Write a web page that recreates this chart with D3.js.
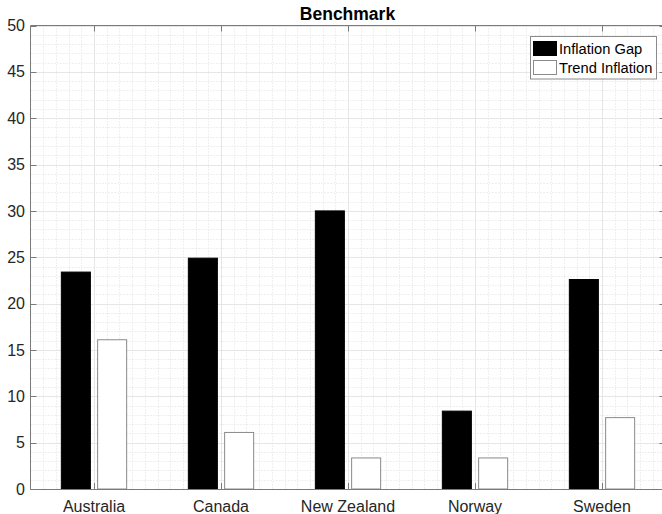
<!DOCTYPE html>
<html>
<head>
<meta charset="utf-8">
<script src="https://cdn.jsdelivr.net/npm/d3@7"></script>
<style>
  html, body { margin: 0; padding: 0; background: #fff; }
  svg { display: block; }
  text { font-family: "Liberation Sans", Arial, sans-serif; fill: #262626; }
</style>
</head>
<body>
<svg id="chart" width="662" height="514"></svg>
<script>
// ---- data ----
const categories = ["Australia", "Canada", "New Zealand", "Norway", "Sweden"];
const seriesNames = ["Inflation Gap", "Trend Inflation"];
const inflationGap = [23.4, 24.9, 30.0, 8.4, 22.6];
const trendInflation = [16.1, 6.1, 3.35, 3.35, 7.7];
const yTicks = [0, 5, 10, 15, 20, 25, 30, 35, 40, 45, 50];
const titleText = "Benchmark";

// ---- layout ----
const plotL = 30.5, plotR = 665.5, plotT = 25.5, plotB = 489;
const svg = d3.select("#chart");

const x = d3.scaleBand().domain(categories).range([plotL, plotR]).padding(0);
const xLin = d3.scaleLinear().domain([0.5, 5.5]).range([plotL, plotR]);
const step = x.bandwidth();
const groupW = step * 0.5714;
const x1 = d3.scaleBand().domain(seriesNames)
  .range([-groupW / 2, groupW / 2]).paddingInner(0.2).paddingOuter(0.1);
const y = d3.scaleLinear().domain([0, 50]).range([plotB, plotT]);

const fills = ["#000000", "#ffffff"];
const strokes = ["#000000", "#8a8a8a"];

// ---- grid ----
const grid = svg.append("g");
// minor y (every 1)
d3.range(0, 51, 1).filter(v => v % 5 !== 0).forEach(v => {
  grid.append("line").attr("x1", plotL).attr("x2", plotR)
    .attr("y1", Math.round(y(v)) + 0.5).attr("y2", Math.round(y(v)) + 0.5)
    .attr("stroke", "#dedede").attr("stroke-width", 1).attr("stroke-dasharray", "1,2");
});
// minor x (every 0.1)
d3.range(6, 55, 1).filter(k => k % 10 !== 0).forEach(k => {
  const xx = Math.round(xLin(k / 10)) + 0.5;
  grid.append("line").attr("x1", xx).attr("x2", xx).attr("y1", plotT).attr("y2", plotB)
    .attr("stroke", "#dedede").attr("stroke-width", 1).attr("stroke-dasharray", "1,2");
});
// major y
yTicks.forEach(v => {
  grid.append("line").attr("x1", plotL).attr("x2", plotR)
    .attr("y1", Math.round(y(v)) + 0.5).attr("y2", Math.round(y(v)) + 0.5)
    .attr("stroke", "#e6e6e6").attr("stroke-width", 1);
});
// major x
categories.forEach(c => {
  const xx = Math.round(x(c) + step / 2) + 0.5;
  grid.append("line").attr("x1", xx).attr("x2", xx).attr("y1", plotT).attr("y2", plotB)
    .attr("stroke", "#e6e6e6").attr("stroke-width", 1);
});

// ---- bars ----
const seriesData = [inflationGap, trendInflation];
seriesNames.forEach((s, si) => {
  svg.append("g").selectAll("rect")
    .data(categories.map((c, i) => ({ c, v: seriesData[si][i] })))
    .join("rect")
    .attr("x", d => x(d.c) + step / 2 + x1(s))
    .attr("width", x1.bandwidth())
    .attr("y", d => y(d.v))
    .attr("height", d => y(0) - y(d.v))
    .attr("fill", fills[si])
    .attr("stroke", strokes[si])
    .attr("stroke-width", 1);
});

// ---- axes ----
const axisColor = "#7a7a7a";
const ax = svg.append("g");
ax.append("line").attr("x1", plotL).attr("x2", plotL).attr("y1", plotT).attr("y2", plotB + 0.5)
  .attr("stroke", axisColor);
ax.append("line").attr("x1", plotL).attr("x2", plotR).attr("y1", plotB + 0.5).attr("y2", plotB + 0.5)
  .attr("stroke", axisColor);
ax.append("line").attr("x1", plotL).attr("x2", plotR).attr("y1", plotT).attr("y2", plotT)
  .attr("stroke", axisColor);
ax.append("line").attr("x1", plotR).attr("x2", plotR).attr("y1", plotT).attr("y2", plotB)
  .attr("stroke", axisColor);

// y ticks and labels
yTicks.forEach(v => {
  const yy = Math.round(y(v)) + 0.5;
  ax.append("line").attr("x1", plotL).attr("x2", plotL + 6).attr("y1", yy).attr("y2", yy).attr("stroke", axisColor);
  ax.append("line").attr("x1", plotR - 6).attr("x2", plotR).attr("y1", yy).attr("y2", yy).attr("stroke", axisColor);
  ax.append("text").attr("x", 25).attr("y", y(v)).attr("dy", "0.35em")
    .attr("text-anchor", "end").attr("font-size", 16).text(v);
});
// x ticks and labels
categories.forEach(c => {
  const xx = Math.round(x(c) + step / 2) + 0.5;
  ax.append("line").attr("x1", xx).attr("x2", xx).attr("y1", plotB).attr("y2", plotB - 6).attr("stroke", axisColor);
  ax.append("line").attr("x1", xx).attr("x2", xx).attr("y1", plotT).attr("y2", plotT + 6).attr("stroke", axisColor);
  ax.append("text").attr("x", x(c) + step / 2).attr("y", 512)
    .attr("text-anchor", "middle").attr("font-size", 16).text(c);
});

// ---- title ----
svg.append("text").attr("x", (plotL + plotR) / 2 - 0.5).attr("y", 19.5)
  .attr("text-anchor", "middle").attr("font-size", 17.5).attr("font-weight", "bold")
  .style("fill", "#000").text(titleText);

// ---- legend ----
const lg = svg.append("g");
lg.append("rect").attr("x", 530.5).attr("y", 36.5).attr("width", 126).attr("height", 42.5)
  .attr("fill", "#fff").attr("stroke", "#8a8a8a");
seriesNames.forEach((s, i) => {
  const yy = 41.5 + i * 19;
  lg.append("rect").attr("x", 533.5).attr("y", yy).attr("width", 23).attr("height", 14)
    .attr("fill", fills[i]).attr("stroke", strokes[i]);
  lg.append("text").attr("x", 559).attr("y", yy + 12.5)
    .attr("font-size", 14.7).style("fill", "#000").text(s);
});
</script>
</body>
</html>
